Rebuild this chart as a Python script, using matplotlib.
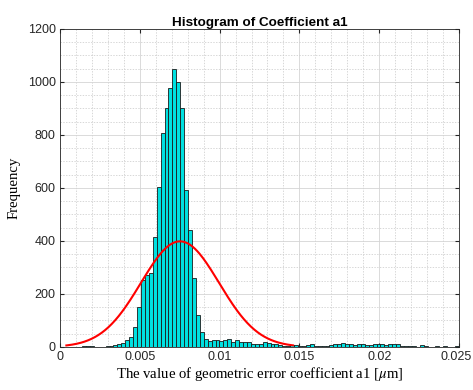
import numpy as np
import matplotlib.pyplot as plt
from matplotlib.ticker import MultipleLocator, FixedLocator
from matplotlib.transforms import ScaledTranslation

# histogram of coefficient a1 (100 bins), counts
bin_start = 0.0004
bin_width = 0.000246
counts = [
    0, 0, 0, 1, 2, 3, 4, 0, 1, 1,
    2, 4, 6, 12, 16, 26, 36, 76, 152, 253,
    272, 278, 416, 605, 806, 901, 976, 1049, 999, 903,
    592, 441, 259, 122, 58, 29, 23, 26, 26, 23,
    26, 30, 20, 28, 18, 18, 17, 13, 10, 12,
    20, 15, 12, 10, 7, 4, 4, 9, 6, 5,
    5, 6, 12, 5, 4, 5, 4, 9, 12, 12,
    15, 12, 12, 8, 12, 11, 8, 8, 10, 12,
    10, 8, 12, 12, 13, 4, 4, 2, 2, 1,
    6, 2, 1, 1, 2, 1, 3, 1, 0, 3,
]

# fitted normal curve
mu = 0.00752
sigma = 0.00245
curve_lo, curve_hi = 0.0004, 0.0146

xticks = [0, 0.005, 0.01, 0.015, 0.02, 0.025]
xticklabels = ["0", "0.005", "0.01", "0.015", "0.02", "0.025"]
yticks = [0, 200, 400, 600, 800, 1000, 1200]

plt.rcParams["mathtext.fontset"] = "stix"

fig = plt.figure(figsize=(4.73, 3.9), dpi=100)
ax = fig.add_axes([0.1268, 0.1103, 0.8436, 0.8154])

counts = np.array(counts)
edges = bin_start + bin_width * np.arange(len(counts) + 1)
ax.bar(edges[:-1], counts, width=bin_width, align="edge",
       color="#00E0E0", edgecolor="#1a1a1a", linewidth=0.6, zorder=3)

n_total = counts.sum()
xc = np.linspace(curve_lo, curve_hi, 200)
yc = n_total * bin_width / (sigma * np.sqrt(2 * np.pi)) * np.exp(-0.5 * ((xc - mu) / sigma) ** 2)
ax.plot(xc, yc, color="red", linewidth=1.5, zorder=4)

ax.set_xlim(0, 0.025)
ax.set_ylim(0, 1200)
ax.xaxis.set_major_locator(FixedLocator(xticks))
ax.set_xticklabels(xticklabels)
ax.set_yticks(yticks)
ax.xaxis.set_minor_locator(MultipleLocator(0.001))
ax.yaxis.set_minor_locator(MultipleLocator(50))

ax.grid(which="major", color="#d4d4d4", linestyle="-", linewidth=0.6, zorder=0)
ax.grid(which="minor", color="#c8c8c8", linestyle=(0, (2, 2)), linewidth=0.5, zorder=0)
ax.set_axisbelow(True)

ax.tick_params(which="both", direction="in", top=True, right=True,
               colors="#262626", labelsize=9, labelcolor="#262626")
ax.tick_params(which="major", length=3, pad=3)
ax.tick_params(which="minor", length=0)
for sp in ax.spines.values():
    sp.set_color("#262626")
    sp.set_linewidth(0.6)

for lab in ax.get_xticklabels() + ax.get_yticklabels():
    lab.set_family("Liberation Sans")

# keep the last x label inside the figure, as the reference does
last = ax.get_xticklabels()[-1]
last.set_transform(last.get_transform() + ScaledTranslation(-3 / 100, 0, fig.dpi_scale_trans))

ax.set_title("Histogram of Coefficient a1", fontsize=9.7, fontweight="bold",
             family="Liberation Sans", pad=2)
ax.set_xlabel(r"The value of geometric error coefficient a1 [$\mu$m]",
              fontsize=10.6, family="Liberation Serif", labelpad=1)
ax.set_ylabel("Frequency", fontsize=10.6, family="Liberation Serif", labelpad=5)

fig.savefig("out.png", dpi=100)
